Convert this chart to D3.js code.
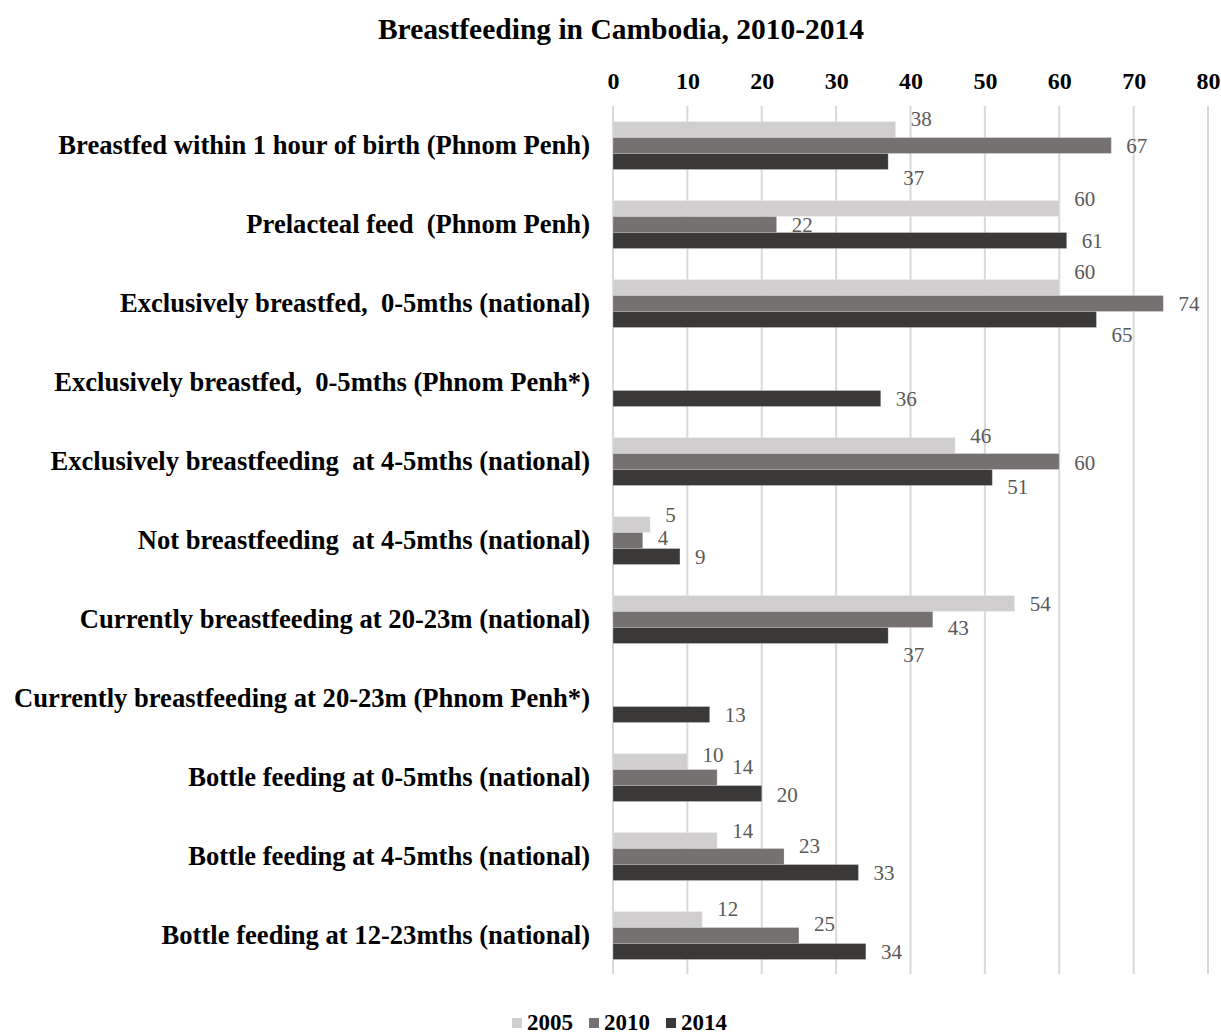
<!DOCTYPE html>
<html>
<head>
<meta charset="utf-8">
<script src="https://cdn.jsdelivr.net/npm/d3@7/dist/d3.min.js"></script>
<style>
  html, body { margin: 0; padding: 0; background: #ffffff; }
  svg { display: block; font-family: "Liberation Serif", "Times New Roman", serif; }
  svg text { white-space: pre; }
</style>
</head>
<body>
<svg id="chart" width="1221" height="1035"></svg>
<script>
// Indicators shown on the vertical axis, top to bottom
const categories = [
  "Breastfed within 1 hour of birth (Phnom Penh)",
  "Prelacteal feed  (Phnom Penh)",
  "Exclusively breastfed,  0-5mths (national)",
  "Exclusively breastfed,  0-5mths (Phnom Penh*)",
  "Exclusively breastfeeding  at 4-5mths (national)",
  "Not breastfeeding  at 4-5mths (national)",
  "Currently breastfeeding at 20-23m (national)",
  "Currently breastfeeding at 20-23m (Phnom Penh*)",
  "Bottle feeding at 0-5mths (national)",
  "Bottle feeding at 4-5mths (national)",
  "Bottle feeding at 12-23mths (national)"
];

const years = ["2005", "2010", "2014"];

// Percentages per survey year (null = not surveyed)
const values2005 = [38, 60, 60, null, 46, 5, 54, null, 10, 14, 12];
const values2010 = [67, 22, 74, null, 60, 4, 43, null, 14, 23, 25];
const values2014 = [37, 61, 65, 36, 51, 9, 37, 13, 20, 33, 34];

const xTicks = [0, 10, 20, 30, 40, 50, 60, 70, 80];

const seriesValues = [values2005, values2010, values2014];
const colors = ["#d0cece", "#767171", "#3b3838"];

// Vertical nudges of the value labels so they don't collide
const labelNudge = [
  [-11, -10, -16, 0, -10, -10, 0, 0, -7, -10, -11],
  [0, 0, 0, 0, 1, -3, 8, 0, -11, -11, -12],
  [16, 0, 15, 0, 9, 0, 19, 0, 1, 0, 0]
];

const svg = d3.select("#chart");

const x = d3.scaleLinear().domain([0, 80]).range([613, 1208]);
const y = d3.scaleBand().domain(categories).range([106, 975])
  .paddingInner(0.392).paddingOuter(0.196);
const ySub = d3.scaleBand().domain(years).range([0, y.bandwidth()]);

// Title
svg.append("text")
  .attr("x", 621).attr("y", 39)
  .attr("text-anchor", "middle")
  .attr("font-size", 29.5).attr("font-weight", "bold")
  .attr("fill", "#000")
  .text("Breastfeeding in Cambodia, 2010-2014");

// Vertical gridlines
svg.append("g")
  .selectAll("line")
  .data(xTicks)
  .join("line")
  .attr("x1", d => x(d)).attr("x2", d => x(d))
  .attr("y1", 106).attr("y2", 974)
  .attr("stroke", "#d9d9d9").attr("stroke-width", 2);

// Top axis labels
const xAxis = d3.axisTop(x).tickValues(xTicks).tickSize(0).tickPadding(0);
const xg = svg.append("g").attr("transform", "translate(0,89)").call(xAxis);
xg.select(".domain").remove();
xg.selectAll("text")
  .attr("font-family", "Liberation Serif, serif")
  .attr("font-size", 24).attr("font-weight", "bold").attr("fill", "#000");

// Category labels
const yAxis = d3.axisLeft(y).tickSize(0).tickPadding(0);
const yg = svg.append("g").attr("transform", "translate(590,0)").call(yAxis);
yg.select(".domain").remove();
yg.selectAll("text")
  .attr("font-family", "Liberation Serif, serif")
  .attr("font-size", 26.6).attr("font-weight", "bold").attr("fill", "#000")
  .attr("dy", "0.33em");

// Bars and value labels
const rows = [];
seriesValues.forEach((vals, si) => {
  vals.forEach((v, ci) => {
    if (v !== null) rows.push({ year: years[si], si, cat: categories[ci], ci, value: v });
  });
});

svg.append("g")
  .selectAll("rect")
  .data(rows)
  .join("rect")
  .attr("x", x(0))
  .attr("y", d => y(d.cat) + ySub(d.year))
  .attr("width", d => x(d.value) - x(0))
  .attr("height", ySub.bandwidth())
  .attr("fill", d => colors[d.si])
  .attr("stroke", "#ffffff").attr("stroke-opacity", 0.25).attr("stroke-width", 1);

svg.append("g")
  .selectAll("text")
  .data(rows)
  .join("text")
  .attr("x", d => x(d.value) + 15)
  .attr("y", d => y(d.cat) + ySub(d.year) + ySub.bandwidth() / 2 + labelNudge[d.si][d.ci])
  .attr("dy", "0.35em")
  .attr("font-size", 21).attr("fill", "#595959")
  .text(d => d.value);

// Legend
const legend = svg.append("g");
let lx = 512;
years.forEach((yr, i) => {
  legend.append("rect")
    .attr("x", lx).attr("y", 1018).attr("width", 10).attr("height", 10)
    .attr("fill", colors[i]);
  const t = legend.append("text")
    .attr("x", lx + 15).attr("y", 1030)
    .attr("font-size", 23).attr("font-weight", "bold").attr("fill", "#000")
    .text(yr);
  lx += 15 + t.node().getComputedTextLength() + 16;
});
</script>
</body>
</html>
